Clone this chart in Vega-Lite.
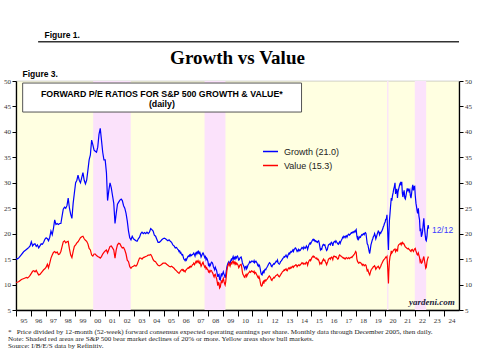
{
"$schema":"https://vega.github.io/schema/vega-lite/v6.json",
"width":443,"height":229,
"autosize":{"type":"none"},
"padding":{"left":16,"top":81,"right":21,"bottom":41},
"background":"#ffffff",
"title":{"text":"Growth vs Value","frame":"group","anchor":"middle","offset":19,"dy":57,"font":"Liberation Serif","fontSize":19,"fontWeight":"bold","color":"#000000"},
"config":{"view":{"fill":"#ffffe1","stroke":"#b0b0b0","strokeWidth":0.6},
 "axisX":{"labelOffset":7.4,"labelFlush":false,"labelOverlap":false,"labelFont":"Liberation Serif","labelFontSize":7,"labelColor":"#333333","labelPadding":0,"tickSize":6,"tickColor":"#000000","domainColor":"#000000","domainWidth":1.3,"grid":false,"tickCount":30,"format":"%y"}},
"datasets":{
"bear":[{"s":"2000-03-24","e":"2002-10-09"},{"s":"2007-10-09","e":"2009-03-09"},{"s":"2020-02-19","e":"2020-03-23"},{"s":"2022-01-03","e":"2022-10-12"}],
"pe":[
{"d":"1995-01-02","g":15.0,"v":10.4},{"d":"1995-02-15","g":15.1,"v":10.5},{"d":"1995-03-15","g":15.3,"v":10.6},{"d":"1995-04-15","g":15.6,"v":10.8},{"d":"1995-05-15","g":15.9,"v":11.0},{"d":"1995-06-15","g":16.2,"v":11.1},{"d":"1995-07-15","g":16.5,"v":11.2},{"d":"1995-08-15","g":16.7,"v":11.3},{"d":"1995-09-15","g":16.9,"v":11.4},{"d":"1995-10-15","g":17.1,"v":11.3},{"d":"1995-11-15","g":17.3,"v":11.5},{"d":"1995-12-15","g":17.6,"v":11.8},
{"d":"1996-01-15","g":18.4,"v":12.2},{"d":"1996-02-15","g":17.6,"v":12.6},{"d":"1996-03-15","g":17.9,"v":12.7},{"d":"1996-04-15","g":18.0,"v":12.5},{"d":"1996-05-15","g":17.5,"v":12.8},{"d":"1996-06-15","g":17.8,"v":12.3},{"d":"1996-07-15","g":17.2,"v":11.9},{"d":"1996-08-15","g":17.6,"v":12.0},{"d":"1996-09-15","g":18.0,"v":12.3},{"d":"1996-10-15","g":17.9,"v":12.6},{"d":"1996-11-15","g":18.3,"v":12.9},{"d":"1996-12-15","g":18.9,"v":13.1},
{"d":"1997-01-15","g":19.2,"v":13.4},{"d":"1997-02-15","g":19.0,"v":14.0},{"d":"1997-03-15","g":18.6,"v":13.3},{"d":"1997-04-15","g":19.3,"v":14.2},{"d":"1997-05-15","g":20.5,"v":15.2},{"d":"1997-06-15","g":19.8,"v":15.8},{"d":"1997-07-15","g":21.0,"v":16.3},{"d":"1997-08-15","g":22.7,"v":16.5},{"d":"1997-09-15","g":21.8,"v":16.2},{"d":"1997-10-15","g":22.0,"v":16.4},{"d":"1997-11-15","g":21.8,"v":15.9},{"d":"1997-12-15","g":22.0,"v":16.0},
{"d":"1998-01-15","g":22.0,"v":16.5},{"d":"1998-02-15","g":23.5,"v":17.5},{"d":"1998-03-15","g":24.8,"v":18.4},{"d":"1998-04-15","g":25.2,"v":18.6},{"d":"1998-05-15","g":25.0,"v":18.2},{"d":"1998-06-15","g":25.5,"v":18.4},{"d":"1998-07-15","g":27.0,"v":18.5},{"d":"1998-08-15","g":25.0,"v":17.0},{"d":"1998-09-15","g":23.8,"v":15.8},{"d":"1998-10-15","g":23.0,"v":15.3},{"d":"1998-11-15","g":26.0,"v":16.5},{"d":"1998-12-15","g":28.0,"v":17.5},
{"d":"1999-01-15","g":30.0,"v":17.8},{"d":"1999-02-15","g":30.5,"v":18.2},{"d":"1999-03-15","g":31.5,"v":18.4},{"d":"1999-04-15","g":30.5,"v":18.8},{"d":"1999-05-15","g":30.0,"v":19.2},{"d":"1999-06-15","g":31.0,"v":19.4},{"d":"1999-07-15","g":32.0,"v":19.5},{"d":"1999-08-15","g":30.5,"v":19.0},{"d":"1999-09-15","g":29.8,"v":18.7},{"d":"1999-10-15","g":30.5,"v":18.5},{"d":"1999-11-15","g":32.5,"v":18.0},{"d":"1999-12-15","g":34.5,"v":17.1},
{"d":"2000-01-15","g":35.5,"v":16.8},{"d":"2000-02-15","g":38.4,"v":15.8},{"d":"2000-03-15","g":37.5,"v":15.6},{"d":"2000-04-15","g":36.4,"v":16.0},{"d":"2000-05-15","g":36.2,"v":16.0},{"d":"2000-06-15","g":36.0,"v":15.7},{"d":"2000-07-15","g":37.0,"v":15.5},{"d":"2000-08-15","g":39.5,"v":15.4},{"d":"2000-09-15","g":40.7,"v":15.2},{"d":"2000-10-15","g":38.4,"v":15.5},{"d":"2000-11-15","g":36.0,"v":16.0},{"d":"2000-12-15","g":34.5,"v":16.3},
{"d":"2001-01-15","g":34.5,"v":16.6},{"d":"2001-02-15","g":32.0,"v":16.8},{"d":"2001-03-15","g":26.5,"v":16.2},{"d":"2001-04-15","g":28.5,"v":16.9},{"d":"2001-05-15","g":30.0,"v":17.5},{"d":"2001-06-15","g":29.0,"v":17.6},{"d":"2001-07-15","g":27.5,"v":17.2},{"d":"2001-08-15","g":26.0,"v":16.8},{"d":"2001-09-15","g":22.0,"v":15.2},{"d":"2001-10-15","g":24.0,"v":16.8},{"d":"2001-11-15","g":25.8,"v":17.8},{"d":"2001-12-15","g":26.2,"v":18.1},
{"d":"2002-01-15","g":26.6,"v":18.0},{"d":"2002-02-15","g":26.8,"v":17.5},{"d":"2002-03-15","g":26.5,"v":17.2},{"d":"2002-04-15","g":25.5,"v":17.3},{"d":"2002-05-15","g":25.0,"v":16.8},{"d":"2002-06-15","g":24.0,"v":16.0},{"d":"2002-07-15","g":22.5,"v":14.8},{"d":"2002-08-15","g":20.5,"v":14.5},{"d":"2002-09-15","g":19.2,"v":13.5},{"d":"2002-10-15","g":18.8,"v":13.2},{"d":"2002-11-15","g":19.5,"v":13.5},{"d":"2002-12-15","g":19.0,"v":13.6},
{"d":"2003-01-15","g":18.8,"v":13.8},{"d":"2003-02-15","g":18.6,"v":13.6},{"d":"2003-03-15","g":18.5,"v":13.9},{"d":"2003-04-15","g":19.0,"v":14.6},{"d":"2003-05-15","g":19.3,"v":15.2},{"d":"2003-06-15","g":20.0,"v":15.2},{"d":"2003-07-15","g":20.3,"v":15.0},{"d":"2003-08-15","g":20.0,"v":15.3},{"d":"2003-09-15","g":20.2,"v":15.4},{"d":"2003-10-15","g":20.0,"v":15.5},{"d":"2003-11-15","g":20.3,"v":15.6},{"d":"2003-12-15","g":20.0,"v":15.8},
{"d":"2004-01-15","g":20.3,"v":15.8},{"d":"2004-02-15","g":21.0,"v":15.9},{"d":"2004-03-15","g":20.8,"v":15.5},{"d":"2004-04-15","g":20.5,"v":14.9},{"d":"2004-05-15","g":19.7,"v":14.6},{"d":"2004-06-15","g":19.5,"v":14.5},{"d":"2004-07-15","g":18.9,"v":14.1},{"d":"2004-08-15","g":18.3,"v":13.8},{"d":"2004-09-15","g":18.3,"v":13.7},{"d":"2004-10-15","g":18.5,"v":13.8},{"d":"2004-11-15","g":18.8,"v":14.0},{"d":"2004-12-15","g":19.0,"v":14.2},
{"d":"2005-01-15","g":19.1,"v":14.2},{"d":"2005-02-15","g":19.0,"v":14.2},{"d":"2005-03-15","g":18.8,"v":14.0},{"d":"2005-04-15","g":18.6,"v":13.8},{"d":"2005-05-15","g":18.8,"v":13.6},{"d":"2005-06-15","g":18.5,"v":13.5},{"d":"2005-07-15","g":18.3,"v":13.6},{"d":"2005-08-15","g":17.8,"v":13.4},{"d":"2005-09-15","g":17.6,"v":13.2},{"d":"2005-10-15","g":17.2,"v":12.9},{"d":"2005-11-15","g":17.3,"v":12.7},{"d":"2005-12-15","g":16.9,"v":12.4},
{"d":"2006-01-01","g":16.8,"v":12.3},{"d":"2006-01-15","g":16.5,"v":12.2},{"d":"2006-02-01","g":16.6,"v":12.4},{"d":"2006-02-15","g":16.2,"v":12.6},{"d":"2006-03-01","g":16.3,"v":12.7},{"d":"2006-03-15","g":16.0,"v":12.9},{"d":"2006-04-01","g":15.8,"v":13.0},{"d":"2006-04-15","g":15.9,"v":12.8},{"d":"2006-05-01","g":15.4,"v":12.9},{"d":"2006-05-15","g":15.0,"v":12.6},{"d":"2006-06-01","g":14.9,"v":12.7},{"d":"2006-06-15","g":14.7,"v":12.5},{"d":"2006-07-01","g":15.0,"v":12.8},{"d":"2006-07-15","g":14.8,"v":12.9},{"d":"2006-08-01","g":15.1,"v":13.1},{"d":"2006-08-15","g":15.4,"v":13.2},{"d":"2006-09-01","g":15.6,"v":13.3},{"d":"2006-09-15","g":15.5,"v":13.2},{"d":"2006-10-01","g":15.8,"v":13.5},{"d":"2006-10-15","g":15.6,"v":13.4},{"d":"2006-11-01","g":15.9,"v":13.6},{"d":"2006-11-15","g":15.7,"v":13.5},{"d":"2006-12-01","g":15.8,"v":13.7},{"d":"2006-12-15","g":15.9,"v":13.9},
{"d":"2007-01-01","g":16.0,"v":14.0},{"d":"2007-01-15","g":16.2,"v":14.2},{"d":"2007-02-01","g":15.9,"v":13.9},{"d":"2007-02-15","g":15.6,"v":14.1},{"d":"2007-03-01","g":16.1,"v":14.4},{"d":"2007-03-15","g":16.3,"v":14.6},{"d":"2007-04-01","g":16.0,"v":14.3},{"d":"2007-04-15","g":16.4,"v":14.5},{"d":"2007-05-01","g":16.2,"v":14.7},{"d":"2007-05-15","g":16.5,"v":14.4},{"d":"2007-06-01","g":16.1,"v":14.2},{"d":"2007-06-15","g":16.3,"v":14.5},{"d":"2007-07-01","g":15.9,"v":14.0},{"d":"2007-07-15","g":15.4,"v":13.6},{"d":"2007-08-01","g":15.7,"v":13.9},{"d":"2007-08-15","g":16.0,"v":14.2},{"d":"2007-09-01","g":16.2,"v":14.4},{"d":"2007-09-15","g":16.0,"v":14.0},{"d":"2007-10-01","g":15.6,"v":13.7},{"d":"2007-10-15","g":15.3,"v":13.4},{"d":"2007-11-01","g":15.5,"v":13.6},{"d":"2007-11-15","g":14.9,"v":13.1},{"d":"2007-12-01","g":15.2,"v":13.3},{"d":"2007-12-15","g":15.0,"v":13.0},
{"d":"2008-01-01","g":14.5,"v":12.9},{"d":"2008-01-15","g":13.8,"v":12.5},{"d":"2008-02-01","g":14.0,"v":12.7},{"d":"2008-02-15","g":13.6,"v":12.4},{"d":"2008-03-01","g":13.8,"v":12.6},{"d":"2008-03-15","g":14.2,"v":12.8},{"d":"2008-04-01","g":14.4,"v":12.7},{"d":"2008-04-15","g":14.3,"v":12.4},{"d":"2008-05-01","g":14.0,"v":12.2},{"d":"2008-05-15","g":13.5,"v":11.8},{"d":"2008-06-01","g":13.2,"v":11.5},{"d":"2008-06-15","g":12.9,"v":11.9},{"d":"2008-07-01","g":13.4,"v":12.0},{"d":"2008-07-15","g":13.1,"v":11.6},{"d":"2008-08-01","g":12.8,"v":11.2},{"d":"2008-08-15","g":12.2,"v":10.6},{"d":"2008-09-01","g":11.5,"v":9.8},{"d":"2008-09-15","g":11.9,"v":10.4},{"d":"2008-10-01","g":12.0,"v":10.3},{"d":"2008-10-15","g":11.0,"v":9.3},{"d":"2008-11-01","g":10.9,"v":9.5},{"d":"2008-11-15","g":11.6,"v":10.2},{"d":"2008-12-01","g":12.2,"v":10.8},{"d":"2008-12-15","g":11.8,"v":10.3},
{"d":"2009-01-01","g":12.2,"v":10.9},{"d":"2009-01-15","g":12.5,"v":11.2},{"d":"2009-02-01","g":12.0,"v":10.6},{"d":"2009-02-15","g":11.8,"v":10.2},{"d":"2009-03-01","g":11.3,"v":9.9},{"d":"2009-03-15","g":11.8,"v":10.5},{"d":"2009-04-01","g":12.8,"v":11.8},{"d":"2009-04-15","g":13.5,"v":12.8},{"d":"2009-05-01","g":14.0,"v":13.5},{"d":"2009-05-15","g":14.3,"v":13.8},{"d":"2009-06-01","g":14.5,"v":14.2},{"d":"2009-06-15","g":14.2,"v":13.9},{"d":"2009-07-01","g":14.0,"v":13.6},{"d":"2009-07-15","g":14.6,"v":14.0},{"d":"2009-08-01","g":15.0,"v":14.3},{"d":"2009-08-15","g":14.8,"v":14.1},{"d":"2009-09-01","g":15.2,"v":14.5},{"d":"2009-09-15","g":15.5,"v":14.6},{"d":"2009-10-01","g":15.0,"v":14.2},{"d":"2009-10-15","g":15.3,"v":14.4},{"d":"2009-11-01","g":15.0,"v":14.0},{"d":"2009-11-15","g":15.4,"v":14.3},{"d":"2009-12-01","g":15.2,"v":14.0},{"d":"2009-12-15","g":15.5,"v":14.2},
{"d":"2010-01-01","g":15.6,"v":14.0},{"d":"2010-01-15","g":15.3,"v":13.8},{"d":"2010-02-01","g":14.8,"v":13.3},{"d":"2010-02-15","g":14.9,"v":13.5},{"d":"2010-03-01","g":15.2,"v":13.8},{"d":"2010-03-15","g":15.3,"v":13.9},{"d":"2010-04-01","g":15.4,"v":14.0},{"d":"2010-04-15","g":15.0,"v":13.4},{"d":"2010-05-01","g":14.3,"v":12.5},{"d":"2010-05-15","g":14.0,"v":12.0},{"d":"2010-06-01","g":13.7,"v":11.8},{"d":"2010-06-15","g":13.4,"v":11.5},{"d":"2010-07-01","g":13.0,"v":11.4},{"d":"2010-07-15","g":13.5,"v":11.8},{"d":"2010-08-01","g":13.6,"v":12.0},{"d":"2010-08-15","g":13.1,"v":11.6},{"d":"2010-09-01","g":13.4,"v":11.9},{"d":"2010-09-15","g":13.8,"v":12.1},{"d":"2010-10-01","g":14.0,"v":12.3},{"d":"2010-10-15","g":14.2,"v":12.4},{"d":"2010-11-01","g":14.5,"v":12.6},{"d":"2010-11-15","g":14.3,"v":12.4},{"d":"2010-12-01","g":14.4,"v":12.5},{"d":"2010-12-15","g":14.6,"v":12.7},
{"d":"2011-01-01","g":14.6,"v":12.6},{"d":"2011-01-15","g":14.5,"v":12.5},{"d":"2011-02-01","g":14.4,"v":12.4},{"d":"2011-02-15","g":14.7,"v":12.6},{"d":"2011-03-01","g":14.3,"v":12.2},{"d":"2011-03-15","g":14.5,"v":12.4},{"d":"2011-04-01","g":14.6,"v":12.3},{"d":"2011-04-15","g":14.4,"v":12.0},{"d":"2011-05-01","g":14.2,"v":11.8},{"d":"2011-05-15","g":13.8,"v":11.5},{"d":"2011-06-01","g":13.6,"v":11.3},{"d":"2011-06-15","g":13.9,"v":11.6},{"d":"2011-07-01","g":13.7,"v":11.2},{"d":"2011-07-15","g":13.2,"v":10.6},{"d":"2011-08-01","g":12.4,"v":9.9},{"d":"2011-08-15","g":12.0,"v":9.7},{"d":"2011-09-01","g":11.9,"v":9.8},{"d":"2011-09-15","g":12.4,"v":10.3},{"d":"2011-10-01","g":12.6,"v":10.6},{"d":"2011-10-15","g":12.2,"v":10.2},{"d":"2011-11-01","g":12.8,"v":10.8},{"d":"2011-11-15","g":13.0,"v":10.9},{"d":"2011-12-01","g":12.9,"v":10.7},{"d":"2011-12-15","g":13.2,"v":10.9},
{"d":"2012-01-01","g":13.4,"v":11.0},{"d":"2012-01-15","g":13.6,"v":11.2},{"d":"2012-02-01","g":13.9,"v":11.4},{"d":"2012-02-15","g":14.1,"v":11.6},{"d":"2012-03-01","g":14.3,"v":11.7},{"d":"2012-03-15","g":14.2,"v":11.5},{"d":"2012-04-01","g":14.0,"v":11.3},{"d":"2012-04-15","g":13.6,"v":10.9},{"d":"2012-05-01","g":13.5,"v":10.8},{"d":"2012-05-15","g":13.8,"v":11.1},{"d":"2012-06-01","g":13.9,"v":11.2},{"d":"2012-06-15","g":14.1,"v":11.4},{"d":"2012-07-01","g":14.0,"v":11.3},{"d":"2012-07-15","g":14.2,"v":11.5},{"d":"2012-08-01","g":14.4,"v":11.7},{"d":"2012-08-15","g":14.6,"v":11.8},{"d":"2012-09-01","g":14.5,"v":11.9},{"d":"2012-09-15","g":14.8,"v":12.0},{"d":"2012-10-01","g":14.3,"v":11.8},{"d":"2012-10-15","g":14.1,"v":11.6},{"d":"2012-11-01","g":14.0,"v":11.5},{"d":"2012-11-15","g":14.2,"v":11.7},{"d":"2012-12-01","g":14.5,"v":11.9},{"d":"2012-12-15","g":14.6,"v":12.1},
{"d":"2013-01-01","g":14.8,"v":12.3},{"d":"2013-01-15","g":15.0,"v":12.5},{"d":"2013-02-01","g":15.2,"v":12.6},{"d":"2013-02-15","g":15.3,"v":12.7},{"d":"2013-03-01","g":15.5,"v":12.9},{"d":"2013-03-15","g":15.4,"v":12.8},{"d":"2013-04-01","g":15.6,"v":13.0},{"d":"2013-04-15","g":15.8,"v":13.1},{"d":"2013-05-01","g":15.5,"v":12.8},{"d":"2013-05-15","g":15.3,"v":12.7},{"d":"2013-06-01","g":15.7,"v":13.0},{"d":"2013-06-15","g":16.0,"v":13.2},{"d":"2013-07-01","g":16.2,"v":13.3},{"d":"2013-07-15","g":16.0,"v":13.1},{"d":"2013-08-01","g":16.3,"v":13.2},{"d":"2013-08-15","g":16.5,"v":13.4},{"d":"2013-09-01","g":16.4,"v":13.3},{"d":"2013-09-15","g":16.6,"v":13.5},{"d":"2013-10-01","g":16.8,"v":13.6},{"d":"2013-10-15","g":16.5,"v":13.4},{"d":"2013-11-01","g":16.9,"v":13.6},{"d":"2013-11-15","g":17.0,"v":13.7},{"d":"2013-12-01","g":17.2,"v":13.8},{"d":"2013-12-15","g":17.1,"v":13.9},
{"d":"2014-01-01","g":16.8,"v":13.8},{"d":"2014-01-15","g":16.5,"v":13.5},{"d":"2014-02-01","g":16.7,"v":13.7},{"d":"2014-02-15","g":16.9,"v":13.8},{"d":"2014-03-01","g":16.6,"v":13.9},{"d":"2014-03-15","g":16.8,"v":13.7},{"d":"2014-04-01","g":16.7,"v":13.8},{"d":"2014-04-15","g":16.9,"v":14.0},{"d":"2014-05-01","g":17.1,"v":14.1},{"d":"2014-05-15","g":17.3,"v":14.3},{"d":"2014-06-01","g":17.2,"v":14.2},{"d":"2014-06-15","g":17.0,"v":14.0},{"d":"2014-07-01","g":17.4,"v":14.2},{"d":"2014-07-15","g":17.2,"v":14.1},{"d":"2014-08-01","g":17.1,"v":14.0},{"d":"2014-08-15","g":17.3,"v":14.2},{"d":"2014-09-01","g":17.6,"v":14.4},{"d":"2014-09-15","g":17.4,"v":14.3},{"d":"2014-10-01","g":16.9,"v":13.8},{"d":"2014-10-15","g":17.3,"v":14.2},{"d":"2014-11-01","g":17.8,"v":14.6},{"d":"2014-11-15","g":18.0,"v":14.8},{"d":"2014-12-01","g":18.2,"v":14.9},{"d":"2014-12-15","g":18.0,"v":14.7},
{"d":"2015-01-01","g":18.3,"v":15.0},{"d":"2015-01-15","g":18.5,"v":15.3},{"d":"2015-02-01","g":18.8,"v":15.5},{"d":"2015-02-15","g":18.9,"v":15.6},{"d":"2015-03-01","g":18.7,"v":15.4},{"d":"2015-03-15","g":18.8,"v":15.5},{"d":"2015-04-01","g":18.5,"v":15.3},{"d":"2015-04-15","g":18.6,"v":15.2},{"d":"2015-05-01","g":18.4,"v":15.1},{"d":"2015-05-15","g":18.5,"v":15.2},{"d":"2015-06-01","g":18.3,"v":14.9},{"d":"2015-06-15","g":18.5,"v":15.0},{"d":"2015-07-01","g":18.6,"v":14.8},{"d":"2015-07-15","g":18.2,"v":14.5},{"d":"2015-08-01","g":17.4,"v":14.0},{"d":"2015-08-15","g":16.8,"v":14.2},{"d":"2015-09-01","g":17.0,"v":14.3},{"d":"2015-09-15","g":16.9,"v":14.1},{"d":"2015-10-01","g":17.5,"v":14.6},{"d":"2015-10-15","g":17.8,"v":14.8},{"d":"2015-11-01","g":17.9,"v":15.0},{"d":"2015-11-15","g":17.7,"v":14.7},{"d":"2015-12-01","g":17.8,"v":14.8},{"d":"2015-12-15","g":17.4,"v":14.5},
{"d":"2016-01-01","g":17.0,"v":14.2},{"d":"2016-01-15","g":16.7,"v":13.9},{"d":"2016-02-01","g":16.9,"v":14.3},{"d":"2016-02-15","g":17.4,"v":14.6},{"d":"2016-03-01","g":17.8,"v":15.0},{"d":"2016-03-15","g":17.9,"v":15.1},{"d":"2016-04-01","g":18.0,"v":15.2},{"d":"2016-04-15","g":17.8,"v":15.0},{"d":"2016-05-01","g":18.2,"v":15.3},{"d":"2016-05-15","g":18.3,"v":15.4},{"d":"2016-06-01","g":18.0,"v":15.2},{"d":"2016-06-15","g":17.6,"v":14.9},{"d":"2016-07-01","g":18.2,"v":15.5},{"d":"2016-07-15","g":18.4,"v":15.6},{"d":"2016-08-01","g":18.5,"v":15.5},{"d":"2016-08-15","g":18.3,"v":15.4},{"d":"2016-09-01","g":18.6,"v":15.5},{"d":"2016-09-15","g":18.4,"v":15.3},{"d":"2016-10-01","g":18.2,"v":15.2},{"d":"2016-10-15","g":18.0,"v":15.0},{"d":"2016-11-01","g":17.9,"v":15.1},{"d":"2016-11-15","g":18.2,"v":15.6},{"d":"2016-12-01","g":18.4,"v":15.8},{"d":"2016-12-15","g":18.1,"v":15.7},
{"d":"2017-01-01","g":18.5,"v":15.6},{"d":"2017-01-15","g":18.7,"v":15.5},{"d":"2017-02-01","g":19.0,"v":15.4},{"d":"2017-02-15","g":19.3,"v":15.3},{"d":"2017-03-01","g":19.2,"v":15.2},{"d":"2017-03-15","g":19.5,"v":15.3},{"d":"2017-04-01","g":19.4,"v":15.1},{"d":"2017-04-15","g":19.2,"v":15.0},{"d":"2017-05-01","g":19.5,"v":15.2},{"d":"2017-05-15","g":19.6,"v":15.3},{"d":"2017-06-01","g":19.3,"v":15.2},{"d":"2017-06-15","g":19.6,"v":15.1},{"d":"2017-07-01","g":19.8,"v":15.2},{"d":"2017-07-15","g":19.9,"v":15.3},{"d":"2017-08-01","g":19.7,"v":15.1},{"d":"2017-08-15","g":19.8,"v":15.2},{"d":"2017-09-01","g":20.0,"v":15.3},{"d":"2017-09-15","g":20.2,"v":15.4},{"d":"2017-10-01","g":20.1,"v":15.3},{"d":"2017-10-15","g":20.3,"v":15.5},{"d":"2017-11-01","g":20.2,"v":15.7},{"d":"2017-11-15","g":20.4,"v":15.8},{"d":"2017-12-01","g":20.5,"v":16.0},{"d":"2017-12-15","g":20.3,"v":16.2},
{"d":"2018-01-01","g":20.6,"v":16.5},{"d":"2018-01-15","g":20.8,"v":16.3},{"d":"2018-02-01","g":19.5,"v":15.0},{"d":"2018-02-15","g":19.0,"v":14.6},{"d":"2018-03-01","g":19.3,"v":14.4},{"d":"2018-03-15","g":18.9,"v":14.2},{"d":"2018-04-01","g":19.2,"v":14.3},{"d":"2018-04-15","g":19.4,"v":14.4},{"d":"2018-05-01","g":19.3,"v":14.3},{"d":"2018-05-15","g":19.6,"v":14.2},{"d":"2018-06-01","g":19.8,"v":14.0},{"d":"2018-06-15","g":19.7,"v":13.8},{"d":"2018-07-01","g":19.9,"v":14.0},{"d":"2018-07-15","g":20.0,"v":13.9},{"d":"2018-08-01","g":19.8,"v":13.7},{"d":"2018-08-15","g":20.1,"v":13.8},{"d":"2018-09-01","g":20.2,"v":13.9},{"d":"2018-09-15","g":20.0,"v":13.8},{"d":"2018-10-01","g":18.9,"v":13.2},{"d":"2018-10-15","g":18.0,"v":12.7},{"d":"2018-11-01","g":17.8,"v":12.9},{"d":"2018-11-15","g":17.2,"v":12.5},{"d":"2018-12-01","g":16.5,"v":12.1},{"d":"2018-12-15","g":16.1,"v":11.9},
{"d":"2019-01-01","g":17.0,"v":12.4},{"d":"2019-01-15","g":17.8,"v":12.8},{"d":"2019-02-01","g":18.3,"v":13.0},{"d":"2019-02-15","g":18.7,"v":13.2},{"d":"2019-03-01","g":19.0,"v":13.3},{"d":"2019-03-15","g":19.4,"v":13.5},{"d":"2019-04-01","g":19.6,"v":13.6},{"d":"2019-04-15","g":20.0,"v":13.7},{"d":"2019-05-01","g":19.6,"v":13.4},{"d":"2019-05-15","g":19.0,"v":13.0},{"d":"2019-06-01","g":19.4,"v":13.2},{"d":"2019-06-15","g":19.8,"v":13.4},{"d":"2019-07-01","g":20.2,"v":13.5},{"d":"2019-07-15","g":20.5,"v":13.6},{"d":"2019-08-01","g":20.3,"v":13.3},{"d":"2019-08-15","g":19.8,"v":13.1},{"d":"2019-09-01","g":20.2,"v":13.4},{"d":"2019-09-15","g":20.1,"v":13.6},{"d":"2019-10-01","g":20.4,"v":14.0},{"d":"2019-10-15","g":20.6,"v":14.2},{"d":"2019-11-01","g":20.9,"v":14.5},{"d":"2019-11-15","g":21.3,"v":14.7},{"d":"2019-12-01","g":21.6,"v":14.9},{"d":"2019-12-15","g":22.0,"v":15.0},
{"d":"2020-01-01","g":22.3,"v":15.2},{"d":"2020-01-15","g":22.8,"v":15.4},{"d":"2020-02-01","g":22.9,"v":15.3},{"d":"2020-02-15","g":23.7,"v":15.5},{"d":"2020-03-01","g":21.0,"v":13.8},{"d":"2020-03-15","g":18.0,"v":11.5},{"d":"2020-03-23","g":16.8,"v":10.2},{"d":"2020-04-01","g":19.5,"v":12.5},{"d":"2020-04-15","g":22.5,"v":14.5},{"d":"2020-05-01","g":24.0,"v":15.5},{"d":"2020-05-15","g":25.5,"v":15.8},{"d":"2020-06-01","g":27.0,"v":16.6},{"d":"2020-06-15","g":26.5,"v":16.2},{"d":"2020-07-01","g":27.5,"v":16.4},{"d":"2020-07-15","g":28.0,"v":16.6},{"d":"2020-08-01","g":28.8,"v":16.8},{"d":"2020-08-15","g":29.2,"v":16.9},{"d":"2020-09-01","g":30.0,"v":17.0},{"d":"2020-09-15","g":27.8,"v":16.5},{"d":"2020-10-01","g":28.5,"v":16.8},{"d":"2020-10-15","g":28.8,"v":16.9},{"d":"2020-11-01","g":27.0,"v":16.5},{"d":"2020-11-15","g":28.2,"v":17.5},{"d":"2020-12-01","g":28.8,"v":17.8},{"d":"2020-12-15","g":29.3,"v":17.9},
{"d":"2021-01-01","g":29.8,"v":18.0},{"d":"2021-01-15","g":30.0,"v":18.1},{"d":"2021-02-01","g":29.5,"v":17.8},{"d":"2021-02-15","g":30.2,"v":18.2},{"d":"2021-03-01","g":28.0,"v":18.3},{"d":"2021-03-15","g":27.2,"v":18.0},{"d":"2021-04-01","g":28.0,"v":18.1},{"d":"2021-04-15","g":28.5,"v":17.9},{"d":"2021-05-01","g":27.0,"v":17.6},{"d":"2021-05-15","g":26.8,"v":17.4},{"d":"2021-06-01","g":27.5,"v":17.3},{"d":"2021-06-15","g":28.2,"v":17.2},{"d":"2021-07-01","g":28.9,"v":17.1},{"d":"2021-07-15","g":28.5,"v":17.0},{"d":"2021-08-01","g":28.7,"v":17.1},{"d":"2021-08-15","g":28.3,"v":16.9},{"d":"2021-09-01","g":28.6,"v":16.8},{"d":"2021-09-15","g":27.5,"v":16.6},{"d":"2021-10-01","g":27.0,"v":16.5},{"d":"2021-10-15","g":27.8,"v":16.8},{"d":"2021-11-01","g":29.0,"v":16.9},{"d":"2021-11-15","g":29.6,"v":16.7},{"d":"2021-12-01","g":28.5,"v":16.5},{"d":"2021-12-15","g":29.2,"v":16.8},
{"d":"2022-01-01","g":29.3,"v":17.0},{"d":"2022-01-15","g":27.5,"v":17.1},{"d":"2022-02-01","g":26.0,"v":16.6},{"d":"2022-02-15","g":25.3,"v":16.3},{"d":"2022-03-01","g":24.5,"v":15.9},{"d":"2022-03-15","g":24.0,"v":15.8},{"d":"2022-04-01","g":25.0,"v":16.2},{"d":"2022-04-15","g":23.5,"v":15.8},{"d":"2022-05-01","g":22.7,"v":15.3},{"d":"2022-05-15","g":20.5,"v":14.5},{"d":"2022-06-01","g":21.0,"v":14.8},{"d":"2022-06-15","g":19.4,"v":14.2},{"d":"2022-07-01","g":19.8,"v":14.3},{"d":"2022-07-15","g":20.5,"v":14.6},{"d":"2022-08-01","g":22.0,"v":15.2},{"d":"2022-08-15","g":23.0,"v":15.5},{"d":"2022-09-01","g":21.0,"v":14.6},{"d":"2022-09-15","g":20.0,"v":14.0},{"d":"2022-10-01","g":18.8,"v":13.2},{"d":"2022-10-15","g":18.6,"v":13.4},{"d":"2022-11-01","g":19.5,"v":14.5},{"d":"2022-11-15","g":21.0,"v":15.0},{"d":"2022-12-01","g":21.7,"v":15.4},{"d":"2022-12-12","g":21.0,"v":15.3}
]},
"resolve":{"axis":{"y":"independent"}},
"layer":[
{"data":{"name":"bear"},"mark":{"type":"rect","color":"#fbe2fb"},
 "encoding":{"x":{"field":"s","type":"temporal","title":null,"scale":{"domain":[{"year":1995,"month":1,"date":1},{"year":2024,"month":12,"date":31,"hours":23}]}},
  "x2":{"field":"e"}}},
{"data":{"values":[{}]},"mark":{"type":"rect","fill":"#ffffff","stroke":"#555555","strokeWidth":1},
 "encoding":{"x":{"datum":{"year":1995,"month":6,"date":15},"type":"temporal"},"x2":{"datum":{"year":2014,"month":5,"date":4}},"y":{"datum":49.6,"type":"quantitative","axis":null},"y2":{"datum":43.9}}},
{"data":{"values":[{}]},"mark":{"type":"text","text":["FORWARD P/E RATIOS FOR S&P 500 GROWTH & VALUE*","(daily)"],"font":"Liberation Sans","fontWeight":"bold","fontSize":8.8,"lineHeight":9.5,"align":"center","baseline":"alphabetic","color":"#000000"},
 "encoding":{"x":{"datum":{"year":2004,"month":11,"date":17},"type":"temporal"},"y":{"datum":46.85,"type":"quantitative","axis":null}}},
{"data":{"name":"pe"},"transform":[{"fold":["g","v"],"as":["series","pe"]}],
 "mark":{"type":"line","strokeWidth":1.2},
 "encoding":{
  "x":{"field":"d","type":"temporal","title":null},
  "y":{"field":"pe","type":"quantitative","scale":{"domain":[5,50],"nice":false,"zero":false},
   "axis":{"orient":"left","values":[5,10,15,20,25,30,35,40,45,50],"labelFont":"Liberation Serif","labelFontSize":7,"labelColor":"#333333","tickSize":4,"labelPadding":1.5,"tickColor":"#000000","domainColor":"#000000","domainWidth":1.3,"grid":false,
    "title":"Figure 3.","titleAngle":0,"titleX":6,"titleY":-5,"titleAlign":"left","titleBaseline":"alphabetic","titleFont":"Liberation Sans","titleFontWeight":"bold","titleFontSize":8.5,"titleColor":"#000000"}},
  "color":{"field":"series","type":"nominal","scale":{"domain":["g","v"],"range":["#0000ff","#ff0000"]},
   "legend":{"title":null,"orient":"none","legendX":246,"legendY":62,"labelExpr":"datum.label == 'g' ? 'Growth (21.0)' : 'Value (15.3)'","labelFont":"Liberation Sans","labelFontSize":9,"labelColor":"#222222","symbolSize":225,"symbolStrokeWidth":1.5,"rowPadding":-5,"labelOffset":5,"padding":0}}
 }},
{"data":{"values":[{}]},"mark":{"type":"text","text":["*\u00a0\u00a0\u00a0Price divided by 12-month (52-week) forward consensus expected operating earnings per share. Monthly data through December 2005, then daily.","\u00a0\u00a0\u00a0\u00a0\u00a0Note: Shaded red areas are S&P 500 bear market declines of 20% or more. Yellow areas show bull markets.","\u00a0\u00a0\u00a0\u00a0\u00a0Source: I/B/E/S data by Refinitiv."],"align":"left","baseline":"alphabetic","font":"Liberation Serif","fontSize":7.1,"lineHeight":7,"color":"#222222"},
 "encoding":{"x":{"datum":{"year":1994,"month":6,"date":15},"type":"temporal"},"y":{"datum":0.28,"type":"quantitative","axis":null}}},
{"data":{"values":[{}]},"mark":{"type":"text","text":"12/12","align":"left","baseline":"middle","font":"Liberation Sans","fontSize":8.5,"color":"#3b3bff"},
 "encoding":{"x":{"datum":{"year":2023,"month":3,"date":3},"type":"temporal"},
  "y":{"datum":20.7,"type":"quantitative","axis":{"orient":"right","values":[5,10,15,20,25,30,35,40,45,50],"labelFont":"Liberation Serif","labelFontSize":7,"labelColor":"#333333","tickSize":4,"labelPadding":1.5,"tickColor":"#000000","domainColor":"#000000","domainWidth":1.3,"grid":false,
    "title":"Figure 1.","titleAngle":0,"titleX":-415,"titleY":-44,"titleAlign":"left","titleBaseline":"alphabetic","titleFont":"Liberation Sans","titleFontWeight":"bold","titleFontSize":8.5,"titleColor":"#000000"}}}},
{"data":{"values":[{}]},"mark":{"type":"text","text":"yardeni.com","align":"right","baseline":"alphabetic","font":"Liberation Serif","fontStyle":"italic","fontWeight":"bold","fontSize":9,"color":"#1a1a3a"},
 "encoding":{"x":{"datum":{"year":2024,"month":9,"date":20},"type":"temporal"},"y":{"datum":5.9,"type":"quantitative","axis":null}}},
{"data":{"values":[{}]},"mark":{"type":"rule","stroke":"#333333","strokeWidth":1.6},
 "encoding":{"x":{"datum":{"year":1996,"month":7,"date":1},"type":"temporal"},"x2":{"datum":{"year":2024,"month":12,"date":31,"hours":23}},"y":{"datum":57.7,"type":"quantitative","axis":null}}}
]
}
